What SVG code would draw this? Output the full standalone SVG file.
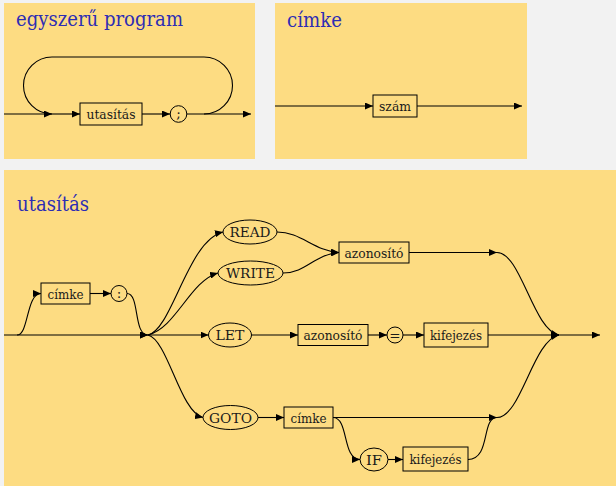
<svg xmlns="http://www.w3.org/2000/svg" width="616" height="486" viewBox="0 0 616 486">
<style>
.panel{fill:#FDDC82;stroke:none}
.title{font-family:'DejaVu Serif',serif;font-size:19.5px;fill:#2d2db4}
.box{fill:none;stroke:#000;stroke-width:1}
.lbl{font-family:'DejaVu Serif',serif;font-size:13.5px;fill:#1a1a1a;text-anchor:middle;dominant-baseline:central}
.c{fill:none;stroke:#000;stroke-width:1.1}
.a{marker-end:url(#arr)}
</style>
<defs>
<marker id="arr" viewBox="0 0 8 7" refX="8" refY="3.5" markerWidth="8" markerHeight="7" markerUnits="userSpaceOnUse" orient="auto">
<path d="M0,0 L8,3.5 L0,7 z" fill="#000"/>
</marker>
</defs>
<rect width="616" height="486" fill="#F2F2F2"/>
<rect class="panel" x="4" y="3" width="251" height="156"/>
<rect class="panel" x="275" y="3" width="252" height="156"/>
<rect class="panel" x="4" y="170" width="612" height="316"/>
<text class="title" x="16" y="26" textLength="167" lengthAdjust="spacingAndGlyphs">egyszerű program</text>
<text class="title" x="287" y="27" textLength="55" lengthAdjust="spacingAndGlyphs">címke</text>
<text class="title" x="17" y="211" textLength="72" lengthAdjust="spacingAndGlyphs">utasítás</text>

<g id="connectors">
<path class="c" d="M4,114 H52"/>
<path class="c a" d="M204,114 A28.5,28.5 0 0 0 204,57 H52 A28.5,28.5 0 0 0 52,114"/>
<path class="c a" d="M52,114 H80"/>
<path class="c a" d="M142,114 H170"/>
<path class="c a" d="M187,114 H251"/>
<path class="c a" d="M275,106 H373"/>
<path class="c a" d="M417,106 H522"/>
<path class="c a" d="M4,335 H148"/>
<path class="c a" d="M17,335 C29,335 26,293.5 41,293.5"/>
<path class="c a" d="M90,293.5 H111"/>
<path class="c a" d="M127,293.5 C140,293.5 133,335 148,335"/>
<path class="c a" d="M148,335 C172,330 188,240 223,232"/>
<path class="c a" d="M148,335 C176,328 190,281 218,273"/>
<path class="c a" d="M148,335 H208.5"/>
<path class="c a" d="M148,335 C168,340 180,412 203,417.5"/>
<path class="c a" d="M277,232 C301,232 314,251 339,252.5"/>
<path class="c a" d="M283,273 C306,273 315,254 339,252.5"/>
<path class="c a" d="M409,252.5 H497"/>
<path class="c a" d="M497,252.5 C521,252.5 533,330 559,335"/>
<path class="c a" d="M251.5,335 H298"/>
<path class="c a" d="M368,335 H387"/>
<path class="c a" d="M403,335 H424"/>
<path class="c a" d="M488,335 H559"/>
<path class="c a" d="M559,335 H600"/>
<path class="c a" d="M258,417.5 H284"/>
<path class="c a" d="M333,417.5 H497"/>
<path class="c a" d="M497,417.5 C521,417.5 533,340 559,335"/>
<path class="c a" d="M333,417.5 C349,417.5 342,459.5 360,459.5"/>
<path class="c a" d="M388,459.5 H403"/>
<path class="c" d="M468,459.5 C491,459.5 481,417.5 497,417.5"/>
</g>

<g id="n-utasitas1"><rect class="box" x="80" y="103" width="62" height="22"/><text class="lbl" x="111" y="114" textLength="49" lengthAdjust="spacingAndGlyphs">utasítás</text></g>
<g id="n-semicolon"><circle class="box" cx="178.5" cy="114" r="8.3"/><text class="lbl" x="178.5" y="113">;</text></g>
<g id="n-szam"><rect class="box" x="373" y="95" width="44" height="22"/><text class="lbl" x="395" y="106" textLength="32" lengthAdjust="spacingAndGlyphs">szám</text></g>
<g id="n-cimke1"><rect class="box" x="41" y="283" width="49" height="21"/><text class="lbl" x="65.5" y="293.5" textLength="36" lengthAdjust="spacingAndGlyphs">címke</text></g>
<g id="n-colon"><circle class="box" cx="119" cy="293.5" r="8"/><text class="lbl" x="119" y="292.5">:</text></g>
<g id="n-read"><ellipse class="box" cx="250" cy="232" rx="27" ry="12"/><text class="lbl" x="250" y="232" textLength="41" lengthAdjust="spacingAndGlyphs">READ</text></g>
<g id="n-write"><ellipse class="box" cx="250.5" cy="273" rx="32.5" ry="12"/><text class="lbl" x="250.5" y="273" textLength="49" lengthAdjust="spacingAndGlyphs">WRITE</text></g>
<g id="n-let"><ellipse class="box" cx="230" cy="335" rx="21.5" ry="12"/><text class="lbl" x="230" y="335" textLength="29" lengthAdjust="spacingAndGlyphs">LET</text></g>
<g id="n-goto"><ellipse class="box" cx="230.5" cy="417.5" rx="27.5" ry="12"/><text class="lbl" x="230.5" y="417.5" textLength="43" lengthAdjust="spacingAndGlyphs">GOTO</text></g>
<g id="n-azon1"><rect class="box" x="339" y="242" width="70" height="21"/><text class="lbl" x="374" y="252.5" textLength="59" lengthAdjust="spacingAndGlyphs">azonosító</text></g>
<g id="n-azon2"><rect class="box" x="298" y="324.5" width="70" height="21"/><text class="lbl" x="333" y="335" textLength="59" lengthAdjust="spacingAndGlyphs">azonosító</text></g>
<g id="n-eq"><circle class="box" cx="395" cy="335" r="8"/><text class="lbl" x="395" y="335">=</text></g>
<g id="n-kif1"><rect class="box" x="424" y="323" width="64" height="24"/><text class="lbl" x="456" y="335" textLength="52" lengthAdjust="spacingAndGlyphs">kifejezés</text></g>
<g id="n-cimke2"><rect class="box" x="284" y="407" width="49" height="21"/><text class="lbl" x="308.5" y="417.5" textLength="36" lengthAdjust="spacingAndGlyphs">címke</text></g>
<g id="n-if"><ellipse class="box" cx="374" cy="459.5" rx="14" ry="11.5"/><text class="lbl" x="374" y="459.5" textLength="16" lengthAdjust="spacingAndGlyphs">IF</text></g>
<g id="n-kif2"><rect class="box" x="403" y="447" width="65" height="24"/><text class="lbl" x="435.5" y="459" textLength="52" lengthAdjust="spacingAndGlyphs">kifejezés</text></g>
</svg>
